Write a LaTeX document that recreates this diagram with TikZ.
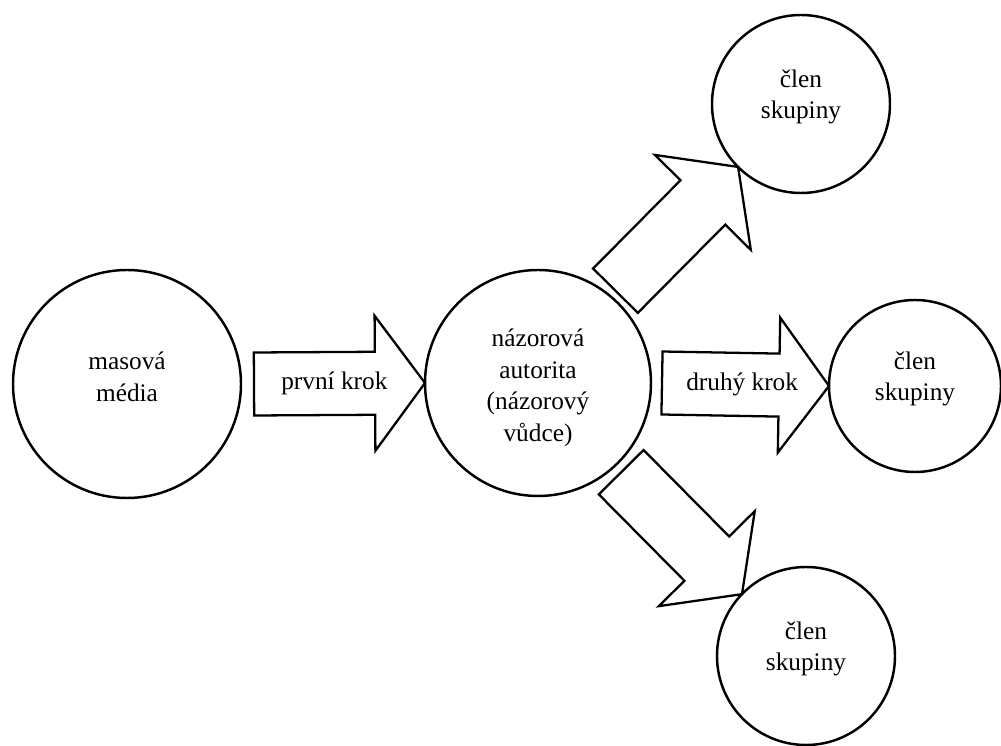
\documentclass[tikz,border=0pt]{standalone}
\usepackage{fontspec}
\setmainfont{Liberation Serif}
\usetikzlibrary{calc}
\tikzset{
  osoba/.style={circle,draw,line width=1.4pt,inner sep=0pt,outer sep=0pt},
  osobatext/.style={align=center,font=\Large,inner sep=1pt},
  krokline/.style={draw,line width=1.3pt,line join=miter,fill=white},
  kroklabel/.style={font=\Large,inner sep=1pt}
}
% block arrow: name, start, tip
\newcommand{\krokarrow}[3]{%
  \coordinate (#1-h) at ($(#3)!1.0cm!(#2)$);
  \draw[krokline] ($(#2)!0.63cm!90:(#3)$) -- ($(#1-h)!0.63cm!90:(#3)$)
    -- ($(#1-h)!1.35cm!90:(#3)$) -- (#3) -- ($(#1-h)!1.35cm!-90:(#3)$)
    -- ($(#1-h)!0.63cm!-90:(#3)$) -- ($(#2)!0.63cm!-90:(#3)$) -- cycle;
}

\begin{document}
\begin{tikzpicture}
  \useasboundingbox (0,0) rectangle (20.02,14.92);
  \node[osoba,minimum size=4.56cm] (media) at (2.54,7.24) {};
  \node[osoba,minimum size=4.52cm] (autorita) at (10.76,7.26) {};
  \node[osoba,minimum size=3.56cm] (clenA) at (16.02,12.84) {};
  \node[osoba,minimum size=3.44cm] (clenB) at (18.30,7.20) {};
  \node[osoba,minimum size=3.56cm] (clenC) at (16.12,1.80) {};
  \node[osobatext] (mediaT) at ([yshift=0.14cm]media.center) {masová\\média};
  \node[osobatext] (autoritaT) at ([yshift=-0.1cm]autorita.center) {názorová\\autorita\\(názorový\\vůdce)};
  \node[osobatext] (clenAT) at ([yshift=0.14cm]clenA.center) {člen\\skupiny};
  \node[osobatext] (clenBT) at ([yshift=0.14cm]clenB.center) {člen\\skupiny};
  \node[osobatext] (clenCT) at ([yshift=0.14cm]clenC.center) {člen\\skupiny};
  \coordinate (k1s) at ($(media.east)+(0.26,0)$);
  \coordinate (k2s) at ($(autorita.east)+(0.22,0)$);
  \coordinate (k3s) at ($(autorita.50)+(50:0.15)$);
  \coordinate (k4s) at ($(autorita.-47)+(-47:0.18)$);
  \krokarrow{krok1}{k1s}{autorita.west}
  \krokarrow{krok2}{k2s}{clenB.west}
  \krokarrow{krok3}{k3s}{clenA.225}
  \krokarrow{krok4}{k4s}{clenC.136}
  \node[kroklabel] (prvni) at ($(k1s)!0.47!(autorita.west)$) {první krok};
  \node[kroklabel] (druhy) at ($(k2s)!0.48!(clenB.west)$) {druhý krok};
\end{tikzpicture}
\end{document}
